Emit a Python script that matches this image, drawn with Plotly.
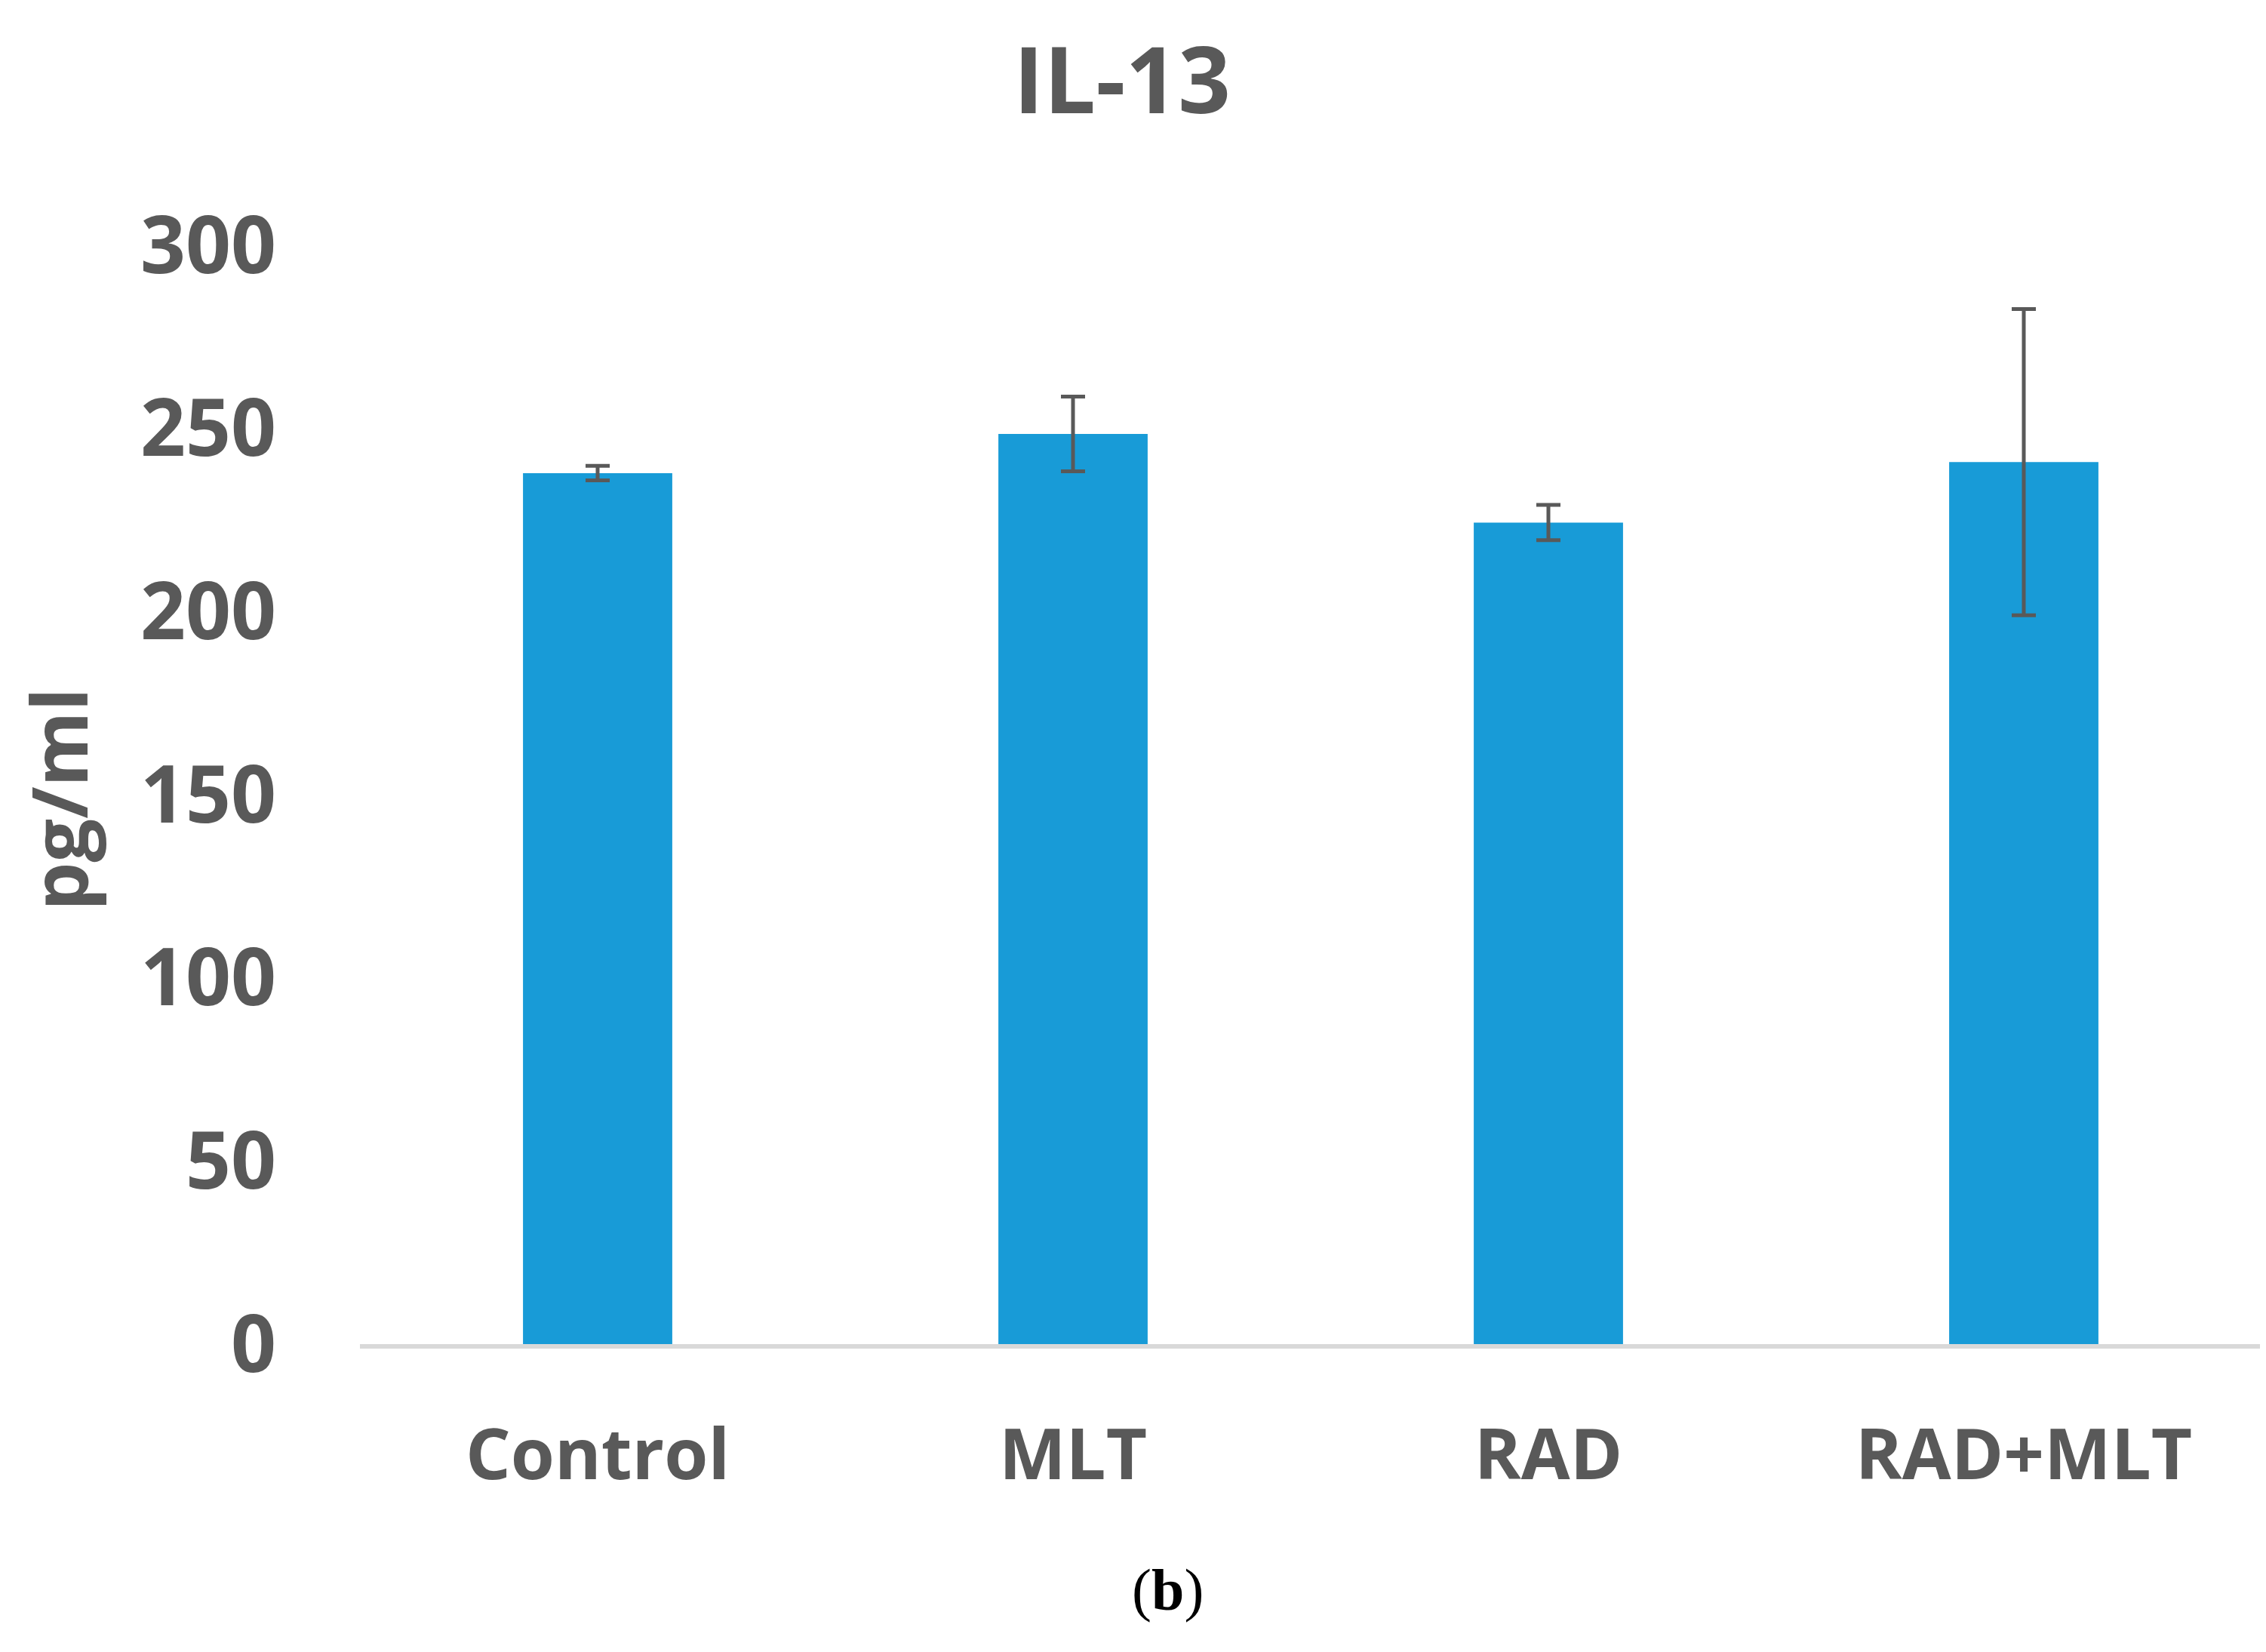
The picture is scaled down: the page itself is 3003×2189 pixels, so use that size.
import plotly.graph_objects as go

categories = ["Control", "MLT", "RAD", "RAD+MLT"]
values = [237.8, 248.5, 224.3, 240.8]
errors = [2.0, 10.2, 4.8, 41.8]
y_ticks = [0, 50, 100, 150, 200, 250, 300]

W, H = 3003, 2189
OFF = 8  # default body margin of the page
# plot area in page pixels
PL, PR, PT, PB = 477, 2997, 325, 1781
L, T = PL - OFF, PT - OFF
R = W - (PR - OFF)
B = H - (PB - OFF)
pw, ph = W - L - R, H - T - B

def px_x(px):
    return (px - OFF - L) / pw

def px_y(py):
    return (H - B - (py - OFF)) / ph

gray = "#595959"
font_fam = "Open Sans"

fig = go.Figure()
fig.add_trace(go.Bar(
    x=categories, y=values,
    marker=dict(color="#189bd7", line=dict(width=0)),
    width=0.314,
    error_y=dict(type="data", array=errors, visible=True,
                 color=gray, thickness=5, width=16),
))

fig.update_layout(
    width=W, height=H,
    margin=dict(l=L, r=R, t=T, b=B, autoexpand=False),
    plot_bgcolor="white", paper_bgcolor="white",
    showlegend=False,
    title=dict(text="IL-13", x=(1487 - OFF) / W, y=1 - (107 - OFF) / H,
               xanchor="center", yanchor="middle",
               font=dict(family=font_fam, size=122, color=gray, weight="bold")),
    xaxis=dict(showgrid=False, showline=True, linecolor="#d9d9d9", linewidth=6,
               ticks="", tickfont=dict(family=font_fam, size=94, color=gray, weight="bold"),
               ticklabelstandoff=60, automargin=False),
    yaxis=dict(range=[0, 300], tickvals=y_ticks, showgrid=False, showline=False,
               zeroline=False, ticks="",
               tickfont=dict(family=font_fam, size=105, color=gray, weight="bold"),
               ticklabelstandoff=110, automargin=False),
    annotations=[
        dict(text="pg/ml", textangle=-90, xref="paper", yref="paper",
             x=px_x(76), y=px_y(1059), xanchor="center", yanchor="middle",
             showarrow=False,
             font=dict(family=font_fam, size=102, color=gray, weight="bold")),
        dict(text="(<b>b</b>)", xref="paper", yref="paper",
             x=px_x(1547), y=px_y(2106), xanchor="center", yanchor="middle",
             showarrow=False,
             font=dict(family="Liberation Serif", size=78, color="black")),
    ],
)

fig.write_html("out.html")
